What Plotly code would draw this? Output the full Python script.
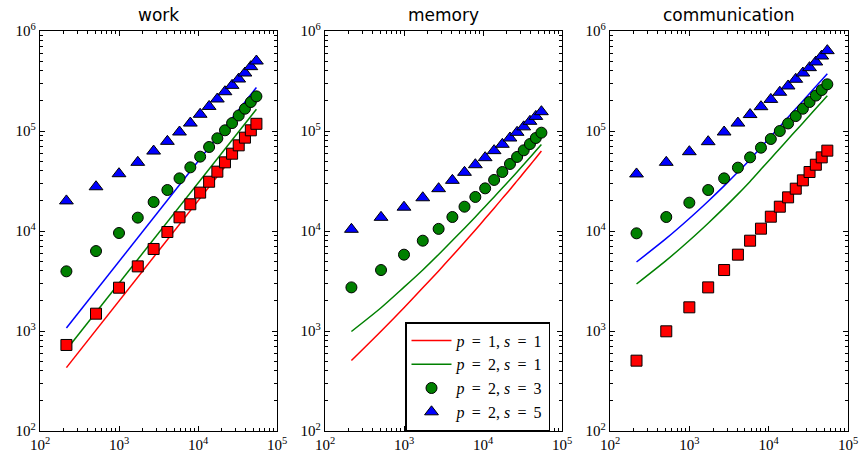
import plotly.graph_objects as go

# ---------------- data ----------------
n_values = [216, 512, 1000, 1728, 2744, 4096, 5832, 8000, 10648, 13824,
            17576, 21952, 27000, 32768, 39304, 46656, 54872]

panel_titles = ["work", "memory", "communication"]
EQ = "\u00a0\u2009=\u2009\u00a0"
legend_labels = ["<i>p</i>" + EQ + "1,\u00a0<i>s</i>" + EQ + "1",
                 "<i>p</i>" + EQ + "2,\u00a0<i>s</i>" + EQ + "1",
                 "<i>p</i>" + EQ + "2,\u00a0<i>s</i>" + EQ + "3",
                 "<i>p</i>" + EQ + "2,\u00a0<i>s</i>" + EQ + "5"]
tick_x = [100, 1000, 10000, 100000]
tick_x_text = ["10<sup>2</sup>", "10<sup>3</sup>", "10<sup>4</sup>", "10<sup>5</sup>"]
tick_y = [100, 1000, 10000, 100000, 1000000]
tick_y_text = ["10<sup>2</sup>", "10<sup>3</sup>", "10<sup>4</sup>", "10<sup>5</sup>", "10<sup>6</sup>"]

# work
work_red_line = [430, 1020, 2000, 3460, 5490, 8190, 11700, 16000, 21300, 27600,
                 35200, 43900, 54000, 65500, 78600, 93300, 110000]
work_green_line = [650, 1540, 3000, 5180, 8230, 12300, 17500, 24000, 31900, 41500,
                   52700, 65900, 81000, 98300, 118000, 140000, 165000]
work_blue_line = [1070, 2540, 4960, 8570, 13600, 20300, 28900, 39700, 52800, 68600,
                  87200, 109000, 134000, 163000, 195000, 232000, 272000]
work_squares = [725, 1490, 2710, 4430, 6610, 9770, 13700, 18500, 24200, 31100,
                39200, 48600, 59300, 71900, 85800, 101600, 118000]
work_circles = [3950, 6300, 9550, 13600, 19500, 25700, 33600, 43300, 55400, 69200,
                84500, 101600, 120000, 143000, 167000, 195000, 222000]
work_triangles = [20000, 27700, 37400, 48600, 63000, 78800, 97700, 120000, 147000, 176000,
                  209000, 247000, 286000, 331000, 380000, 440000, 501000]

# memory
memory_red_line = [507, 995, 1710, 2700, 3990, 5650, 7720, 10250, 13300, 16900,
                   21200, 26000, 31700, 38200, 45500, 53800, 63000]
memory_green_line = [989, 1708, 2744, 4080, 5830, 8020, 10660, 13830, 17570, 21910,
                     26880, 32550, 38990, 46200, 54350, 63390, 73230]
memory_circles = [2730, 4070, 5800, 8000, 10500, 13800, 17500, 21900, 26700, 32400,
                  38900, 46800, 55000, 64100, 74100, 85100, 96200]
memory_triangles = [10400, 13700, 17300, 21500, 26500, 32100, 38600, 46000, 54100, 63600,
                    73600, 85100, 97000, 110000, 125000, 140000, 156000]

# communication
comm_green_line = [2950, 5080, 8040, 11970, 17020, 23390, 31330, 41400, 53210, 66990,
                   82790, 100500, 120500, 142900, 167900, 195400, 225400]
comm_blue_line = [4900, 8430, 13340, 19860, 28250, 38820, 52000, 68710, 88310, 111200,
                  137400, 166700, 200000, 237100, 278600, 324300, 374100]
comm_squares = [505, 993, 1725, 2730, 4070, 5800, 8000, 10550, 13900, 17500,
                21700, 26500, 32100, 38900, 46000, 54500, 63600]
comm_circles = [9480, 13800, 19200, 25700, 33600, 43000, 54500, 68100, 83200, 100000,
                119000, 141000, 167000, 195000, 226000, 257000, 293000]
comm_triangles = [37200, 48600, 62100, 78200, 97700, 120000, 146000, 175000, 207000, 244000,
                  282000, 329000, 380000, 430000, 490000, 562000, 636000]

RED, GREEN, BLUE = "#ff0000", "#008000", "#0000ff"

fig = go.Figure()


def line(ax, y, color, name=None, smooth=False):
    fig.add_trace(go.Scatter(
        x=n_values, y=y, mode="lines",
        line=dict(color=color, width=1.5, shape="spline" if smooth else "linear",
                  smoothing=0.8),
        name=name or "", showlegend=name is not None,
        xaxis="x" + ax, yaxis="y" + ax))


def marks(ax, y, color, symbol, size, name=None):
    fig.add_trace(go.Scatter(
        x=n_values, y=y, mode="markers",
        marker=dict(color=color, symbol=symbol, size=size,
                    line=dict(color="black", width=1)),
        name=name or "", showlegend=name is not None,
        xaxis="x" + ax, yaxis="y" + ax))


# memory panel (carries the legend entries)
line("2", memory_red_line, RED, legend_labels[0], smooth=True)
line("2", memory_green_line, GREEN, legend_labels[1], smooth=True)
marks("2", memory_circles, GREEN, "circle", 11, legend_labels[2])
marks("2", memory_triangles, BLUE, "triangle-up", 12, legend_labels[3])

# work
line("", work_red_line, RED)
line("", work_green_line, GREEN)
line("", work_blue_line, BLUE)
marks("", work_squares, RED, "square", 11)
marks("", work_circles, GREEN, "circle", 11)
marks("", work_triangles, BLUE, "triangle-up", 12)

# communication
line("3", comm_green_line, GREEN, smooth=True)
line("3", comm_blue_line, BLUE, smooth=True)
marks("3", comm_squares, RED, "square", 11)
marks("3", comm_circles, GREEN, "circle", 11)
marks("3", comm_triangles, BLUE, "triangle-up", 12)

W, H = 861, 452
x_domains = [[40 / W, 277 / W], [325 / W, 562 / W], [610 / W, 848 / W]]
y_domain = [21 / H, 421 / H]

minor_x = [m * 10 ** e for e in range(2, 5) for m in range(2, 10)]
minor_y = [m * 10 ** e for e in range(2, 6) for m in range(2, 10)]

tick_font = dict(family="Liberation Serif, DejaVu Serif, serif", size=15, color="black")

layout = dict(
    width=W, height=H,
    margin=dict(l=0, r=0, t=0, b=0),
    paper_bgcolor="white", plot_bgcolor="white",
    showlegend=True,
    legend=dict(x=405 / W, y=(H - 322) / H, xanchor="left", yanchor="top",
                bgcolor="white", bordercolor="black", borderwidth=1.5,
                itemwidth=40,
                font=dict(family="Liberation Serif, DejaVu Serif, serif", size=16, color="black"),
                tracegroupgap=0),
)

for i in range(3):
    sfx = "" if i == 0 else str(i + 1)
    layout["xaxis" + sfx] = dict(
        type="log", range=[2, 5], domain=x_domains[i], anchor="y" + sfx,
        tickmode="array", tickvals=tick_x, ticktext=tick_x_text,
        ticks="inside", ticklen=5, tickwidth=1, tickcolor="black",
        showline=True, linecolor="black", linewidth=1.3, mirror="allticks",
        showgrid=False, zeroline=False, automargin=False,
        tickfont=tick_font,
        minor=dict(tickmode="array", tickvals=minor_x, ticks="inside", ticklen=2.5,
                   tickwidth=1, tickcolor="black", showgrid=False),
    )
    layout["yaxis" + sfx] = dict(
        type="log", range=[2, 6], domain=y_domain, anchor="x" + sfx,
        tickmode="array", tickvals=tick_y, ticktext=tick_y_text,
        ticks="inside", ticklen=5, tickwidth=1, tickcolor="black",
        showline=True, linecolor="black", linewidth=1.3, mirror="allticks",
        showgrid=False, zeroline=False, automargin=False,
        tickfont=tick_font,
        minor=dict(tickmode="array", tickvals=minor_y, ticks="inside", ticklen=2.5,
                   tickwidth=1, tickcolor="black", showgrid=False),
    )

fig.update_layout(**layout)

for i, t in enumerate(panel_titles):
    fig.add_annotation(
        x=(x_domains[i][0] + x_domains[i][1]) / 2, y=(H - 15) / H,
        xref="paper", yref="paper", text=t, showarrow=False,
        xanchor="center", yanchor="middle",
        font=dict(family="DejaVu Sans, sans-serif", size=17, color="black"))

fig.write_html("out.html", config={"displayModeBar": False},
               post_script="document.body.style.margin='0';document.body.style.overflow='hidden';")
